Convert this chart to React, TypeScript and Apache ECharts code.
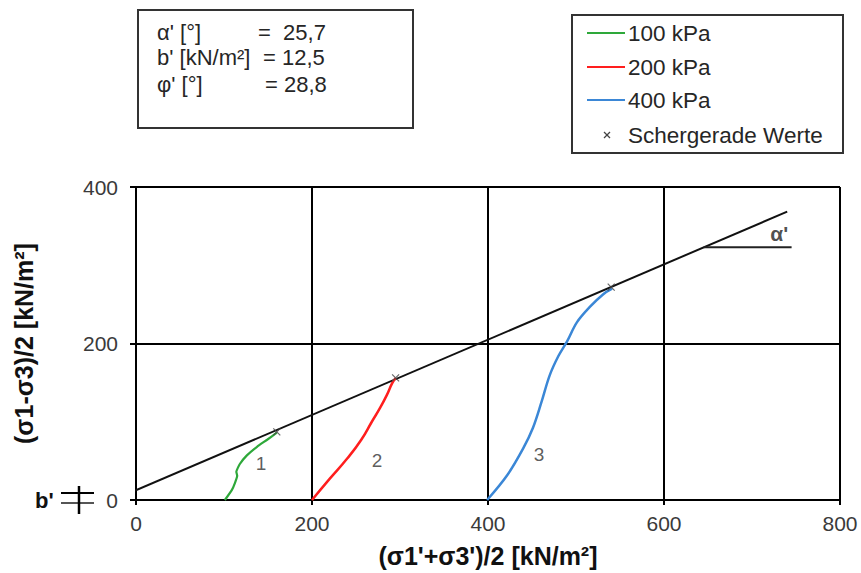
import React, { useEffect, useRef } from 'react';
import * as echarts from 'echarts';

// ---- data ----
const curve100: [number, number][] = [
  [101, 0], [109, 13], [112.5, 22], [115, 31], [114, 36], [118, 46],
  [126, 57], [137.5, 68], [149, 77], [160, 86],
];
const curve200: [number, number][] = [
  [200, 0], [220, 27], [240, 53], [256, 77], [268, 100], [277, 117],
  [285, 134], [291, 149], [295, 156],
];
const curve400: [number, number][] = [
  [399, 0], [422, 32], [440, 66], [451, 92], [461, 126], [470, 159],
  [480, 184], [490, 203], [501, 227], [516, 247], [531, 263], [541, 270],
];
const failurePoints: [number, number][] = [[160, 87], [295, 156], [540, 272]];
const envelope: [number, number][] = [[-20, 2.9], [740, 368.5]];
const alphaRef: [number, number][] = [[645, 323], [745, 323]];
const curveLabelNames = ['1', '2', '3'];
const curveLabelPos: [number, number][] = [[142, 47], [274, 50], [458, 58]];
const alphaLabelPos: [number, number] = [731, 340];
const legendNames = ['100 kPa', '200 kPa', '400 kPa', 'Schergerade Werte'];
const seriesColors = ['#2ea83a', '#ff1e1e', '#3b87d6'];
const infoLabels = ["α' [°]", "b' [kN/m²]", "φ' [°]"];
const infoValues = ['=  25,7', '= 12,5', '= 28,8'];

const FONT = '"Liberation Sans", Arial, sans-serif';
const CROSS = 'path://M0,0L10,10M10,0L0,10';

export default function App() {
  const ref = useRef<HTMLDivElement>(null);
  useEffect(() => {
    const chart = echarts.init(ref.current!, null, { renderer: 'svg' });
    const infoX = [157, 157, 157];
    const infoValX = [258, 263, 265];
    const infoY = [32, 57, 84];
    const legY = [33, 67, 100, 135];
    const graphic: any[] = [
      // info box
      { type: 'rect', shape: { x: 138, y: 10, width: 275, height: 118 }, style: { fill: '#fff', stroke: '#333', lineWidth: 2 }, z: 100 },
      ...infoLabels.map((t, i) => ({ type: 'text', x: infoX[i], y: infoY[i], z: 101, style: { text: t, font: `22px ${FONT}`, fill: '#262626', verticalAlign: 'middle' } })),
      ...infoValues.map((t, i) => ({ type: 'text', x: infoValX[i], y: infoY[i], z: 101, style: { text: t, font: `22px ${FONT}`, fill: '#262626', verticalAlign: 'middle' } })),
      // legend box
      { type: 'rect', shape: { x: 572, y: 15, width: 271, height: 138 }, style: { fill: '#fff', stroke: '#333', lineWidth: 2 }, z: 100 },
      ...seriesColors.map((c, i) => ({ type: 'line', z: 101, shape: { x1: 587, y1: legY[i], x2: 625, y2: legY[i] }, style: { stroke: c, lineWidth: 2 } })),
      { type: 'line', z: 101, shape: { x1: 604, y1: 132, x2: 610, y2: 138 }, style: { stroke: '#444', lineWidth: 1.2 } },
      { type: 'line', z: 101, shape: { x1: 610, y1: 132, x2: 604, y2: 138 }, style: { stroke: '#444', lineWidth: 1.2 } },
      ...legendNames.map((t, i) => ({ type: 'text', x: 628, y: legY[i], z: 101, style: { text: t, font: `22.5px ${FONT}`, fill: '#262626', verticalAlign: 'middle' } })),
      // b' marker
      { type: 'text', x: 35, y: 500, style: { text: "b'", font: `bold 22px ${FONT}`, fill: '#111', verticalAlign: 'middle' } },
      { type: 'line', shape: { x1: 61, y1: 493, x2: 94, y2: 493 }, style: { stroke: '#000', lineWidth: 2 } },
      { type: 'line', shape: { x1: 61, y1: 503, x2: 94, y2: 503 }, style: { stroke: '#555', lineWidth: 2 } },
      { type: 'line', shape: { x1: 79, y1: 486, x2: 79, y2: 514 }, style: { stroke: '#000', lineWidth: 2.5 } },
    ];

    const option: any = {
      animation: false,
      backgroundColor: '#fff',
      grid: { left: 136, right: 21, top: 187, bottom: 70, containLabel: false },
      xAxis: {
        type: 'value', min: 0, max: 800, interval: 200,
        name: "(σ1'+σ3')/2 [kN/m²]", nameLocation: 'middle', nameGap: 43,
        nameTextStyle: { fontFamily: FONT, fontSize: 25, fontWeight: 'bold', color: '#111' },
        axisLine: { show: true, onZero: false, lineStyle: { color: '#000', width: 2 } },
        axisTick: { show: true, length: 5, lineStyle: { color: '#000', width: 2 } },
        axisLabel: { fontFamily: FONT, fontSize: 21, color: '#3a3a3a', margin: 13 },
        splitLine: { show: true, lineStyle: { color: '#000', width: 2 } },
      },
      yAxis: {
        type: 'value', min: 0, max: 400, interval: 200,
        name: '(σ1-σ3)/2 [kN/m²]', nameLocation: 'middle', nameGap: 100, nameRotate: 90,
        nameTextStyle: { fontFamily: FONT, fontSize: 25, fontWeight: 'bold', color: '#111' },
        axisLine: { show: true, onZero: false, lineStyle: { color: '#000', width: 2 } },
        axisTick: { show: true, length: 6, lineStyle: { color: '#000', width: 2 } },
        axisLabel: { fontFamily: FONT, fontSize: 21, color: '#3a3a3a', margin: 18 },
        splitLine: { show: true, lineStyle: { color: '#000', width: 2 } },
      },
      series: [
        { name: 'Schergerade', type: 'line', data: envelope, symbol: 'none', clip: false, lineStyle: { color: '#111', width: 2 }, z: 3 },
        { name: 'alpha', type: 'line', data: alphaRef, symbol: 'none', lineStyle: { color: '#222', width: 2 }, z: 3 },
        { name: 'alphaLabel', type: 'scatter', symbolSize: 0, z: 5,
          data: [{ name: "α'", value: alphaLabelPos }],
          label: { show: true, position: 'inside', formatter: '{b}', fontFamily: FONT, fontSize: 21, fontWeight: 'bold', color: '#222' } },
        { name: legendNames[0], type: 'line', data: curve100, symbol: 'none', smooth: 0.15, lineStyle: { color: seriesColors[0], width: 2.2 }, z: 4 },
        { name: legendNames[1], type: 'line', data: curve200, symbol: 'none', smooth: 0.5, lineStyle: { color: seriesColors[1], width: 2.5 }, z: 4 },
        { name: legendNames[2], type: 'line', data: curve400, symbol: 'none', smooth: 0.35, lineStyle: { color: seriesColors[2], width: 2.5 }, z: 4 },
        { name: legendNames[3], type: 'scatter', data: failurePoints, symbol: CROSS, symbolSize: 7,
          itemStyle: { color: 'rgba(0,0,0,0)', borderColor: '#444', borderWidth: 1.2 }, z: 5 },
        { name: 'labels', type: 'scatter', symbolSize: 0, z: 5,
          data: curveLabelNames.map((n, i) => ({ name: n, value: curveLabelPos[i] })),
          label: { show: true, position: 'inside', formatter: '{b}', fontFamily: FONT, fontSize: 19, color: '#333' } },
      ],
      graphic,
    };
    chart.setOption(option);
    return () => chart.dispose();
  }, []);
  return <div ref={ref} style={{ position: 'fixed', left: 0, top: 0, width: 861, height: 573 }} />;
}
